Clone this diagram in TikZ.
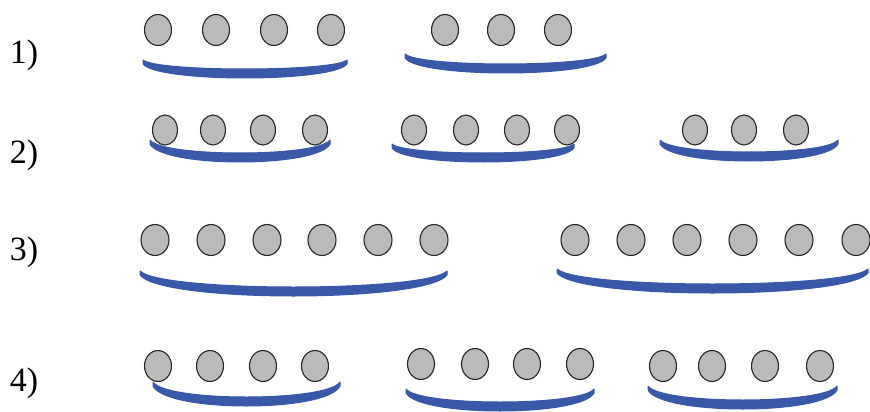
\documentclass[tikz,border=0pt]{standalone}
\usepackage{fontspec}
\setmainfont{Liberation Serif}
\usetikzlibrary{shapes.geometric}
\definecolor{bandblue}{RGB}{58,88,168}
\definecolor{ballgray}{RGB}{186,186,186}
\tikzset{
  ball/.style={ellipse,draw=black!85,line width=1.1pt,fill=ballgray,inner sep=0pt},
  band/.style={fill=bandblue,draw=bandblue,line width=1pt,line join=round},
  lab/.style={font=\fontsize{34}{40}\selectfont,inner sep=0pt}
}
% #1 x1, #2 x2, #3 y of ends, #4 y of bottom
\newcommand{\bandshape}[4]{%
  \pgfmathsetmacro\bw{#2-#1}%
  \pgfmathsetmacro\cxa{#1+0.07*\bw}%
  \pgfmathsetmacro\cxb{#2-0.07*\bw}%
  \pgfmathsetmacro\ct{(4*(#4-9)-#3)/3}%
  \pgfmathsetmacro\eb{#3+4}%
  \pgfmathsetmacro\cb{(4*#4-\eb)/3}%
  \path[band] (#1,#3) .. controls (\cxa,\ct) and (\cxb,\ct) .. (#2,#3)
     -- (#2,\eb) .. controls (\cxb,\cb) and (\cxa,\cb) .. (#1,\eb) -- cycle;
}
\begin{document}
\begin{tikzpicture}[x=1pt,y=-1pt]
\useasboundingbox (0,0) rectangle (870,412);
% labels
\node[lab] (l1) at (24,55) {1)};
\node[lab] (l2) at (24,155) {2)};
\node[lab] (l3) at (24,252) {3)};
\node[lab] (l4) at (24,383) {4)};
% row 1
\foreach \x [count=\i] in {158,216,274,331}
  \node[ball,minimum width=27pt,minimum height=31pt] (ra\i) at (\x,30) {};
\foreach \x [count=\i] in {445,501,558}
  \node[ball,minimum width=27pt,minimum height=31pt] (rb\i) at (\x,30) {};
\bandshape{143}{347}{60}{78}
\bandshape{405}{606}{54}{73}
% row 2
\foreach \x [count=\i] in {165,213,263,315}
  \node[ball,minimum width=25pt,minimum height=30pt] (sa\i) at (\x,130) {};
\foreach \x [count=\i] in {414,466,517,567}
  \node[ball,minimum width=25pt,minimum height=30pt] (sb\i) at (\x,130) {};
\foreach \x [count=\i] in {695,744,796}
  \node[ball,minimum width=25pt,minimum height=30pt] (sc\i) at (\x,130) {};
\bandshape{150}{330}{140}{162}
\bandshape{392}{574}{144}{162}
\bandshape{660}{838}{140}{161}
% row 3
\foreach \x [count=\i] in {155,211,267,322,378,434}
  \node[ball,minimum width=28pt,minimum height=31pt] (ta\i) at (\x,240) {};
\foreach \x [count=\i] in {575,631,687,743,799,856}
  \node[ball,minimum width=28pt,minimum height=31pt] (tb\i) at (\x,240) {};
\bandshape{140}{447}{271}{296}
\bandshape{557}{868}{269}{293}
% row 4
\foreach \x [count=\i] in {158,210,263,315}
  \node[ball,minimum width=27pt,minimum height=31pt] (ua\i) at (\x,366) {};
\foreach \x [count=\i] in {421,475,527,580}
  \node[ball,minimum width=27pt,minimum height=31pt] (ub\i) at (\x,364) {};
\foreach \x [count=\i] in {663,712,765,820}
  \node[ball,minimum width=27pt,minimum height=31pt] (uc\i) at (\x,366) {};
\bandshape{153}{340}{382}{406}
\bandshape{406}{594}{389}{411}
\bandshape{648}{837}{386}{409}
\end{tikzpicture}
\end{document}
